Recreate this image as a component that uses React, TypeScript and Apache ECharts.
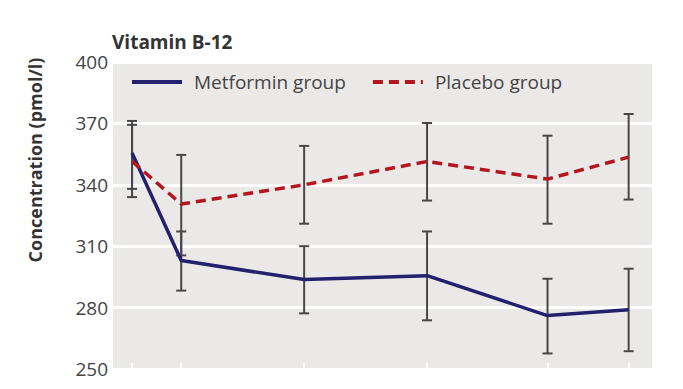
import React, { useEffect, useRef } from "react";
import * as echarts from "echarts";

// Visit times (months, read from positions of the points)
const visits = [0, 4, 14, 24, 33.8, 40.4];
const yTicks = [250, 280, 310, 340, 370, 400];

const metformin = [355.5, 303, 293.7, 295.6, 276.1, 279];
const metforminLow = [338, 288.3, 277.2, 273.8, 257.6, 258.7];
const metforminHigh = [371.2, 317.2, 310, 317.2, 294.1, 299];

const placebo = [351.5, 330.6, 340, 351.4, 342.8, 353.5];
const placeboLow = [334, 305.5, 321, 332.3, 321, 332.8];
const placeboHigh = [369.3, 354.6, 359, 370.2, 364, 374.6];

const FONT = "'Open Sans', 'Liberation Sans', sans-serif";

function errorSeries(low: number[], high: number[], name: string) {
  return {
    type: "custom",
    name,
    z: 1,
    silent: true,
    data: visits.map((x, i) => [x, low[i], high[i]]),
    encode: { x: 0, y: [1, 2] },
    renderItem: (_params: any, api: any) => {
      const x = api.value(0);
      const lo = api.coord([x, api.value(1)]);
      const hi = api.coord([x, api.value(2)]);
      const cap = 5;
      const style = { stroke: "#474747", lineWidth: 2 };
      return {
        type: "group",
        children: [
          { type: "line", shape: { x1: lo[0], y1: lo[1], x2: hi[0], y2: hi[1] }, style },
          { type: "line", shape: { x1: lo[0] - cap, y1: lo[1], x2: lo[0] + cap, y2: lo[1] }, style },
          { type: "line", shape: { x1: hi[0] - cap, y1: hi[1], x2: hi[0] + cap, y2: hi[1] }, style },
        ],
      };
    },
  };
}

export default function App() {
  const ref = useRef<HTMLDivElement>(null);
  useEffect(() => {
    if (!ref.current) return;
    const chart = echarts.init(ref.current, undefined, { renderer: "svg" });
    chart.setOption({
      animation: false,
      backgroundColor: "#ffffff",
      grid: {
        left: 113,
        right: 31,
        top: 62,
        bottom: 20,
        show: true,
        backgroundColor: "#ebe9e8",
        borderWidth: 0,
      },
      title: {
        text: "Vitamin B-12",
        left: 112,
        top: 32,
        padding: 0,
        textStyle: { fontFamily: FONT, fontWeight: "bold", fontSize: 19, color: "#333333" },
      },
      legend: {
        left: 130,
        top: 72,
        itemWidth: 50,
        itemHeight: 20,
        itemGap: 25,
        padding: 0,
        itemStyle: { opacity: 0, color: "rgba(0,0,0,0)", borderWidth: 0 },
        lineStyle: { width: 4 },
        textStyle: { fontFamily: FONT, fontSize: 19, color: "#444444", lineHeight: 20, padding: [0, 0, 0, 7] },
        data: ["Metformin group", "Placebo group"],
      },
      graphic: [
        {
          type: "text",
          x: 35,
          y: 160,
          rotation: Math.PI / 2,
          style: {
            text: "Concentration (pmol/l)",
            fontFamily: FONT,
            fontWeight: "bold",
            fontSize: 18,
            fill: "#333333",
            align: "center",
            verticalAlign: "middle",
          },
        },
      ],
      xAxis: {
        type: "value",
        min: -1.55,
        max: 42.3,
        axisLine: { show: false },
        splitLine: { show: false },
        axisLabel: { show: false },
        axisTick: {
          show: true,
          inside: true,
          length: 6,
          customValues: visits,
          lineStyle: { color: "#ffffff", width: 2 },
        },
      },
      yAxis: {
        type: "value",
        min: yTicks[0],
        max: yTicks[yTicks.length - 1],
        interval: 30,
        axisLine: { show: false },
        axisTick: { show: false },
        axisLabel: { fontFamily: FONT, fontSize: 19, color: "#444444", margin: 5 },
        splitLine: { show: true, lineStyle: { color: "#ffffff", width: 3 } },
      },
      series: [
        errorSeries(metforminLow, metforminHigh, "metErr"),
        errorSeries(placeboLow, placeboHigh, "plaErr"),
        {
          type: "line",
          name: "Metformin group",
          z: 3,
          data: visits.map((x, i) => [x, metformin[i]]),
          showSymbol: false,
          symbol: "none",
          lineStyle: { color: "#23206e", width: 3.5 },
          itemStyle: { color: "#23206e" },
        },
        {
          type: "line",
          name: "Placebo group",
          z: 3,
          data: visits.map((x, i) => [x, placebo[i]]),
          showSymbol: false,
          symbol: "none",
          lineStyle: { color: "#b3161f", width: 3.5, type: [10, 6] },
          itemStyle: { color: "#b3161f" },
        },
      ],
    });
    return () => chart.dispose();
  }, []);
  return (
    <div
      ref={ref}
      style={{ position: "fixed", left: 0, top: 0, width: 683, height: 389 }}
    />
  );
}
